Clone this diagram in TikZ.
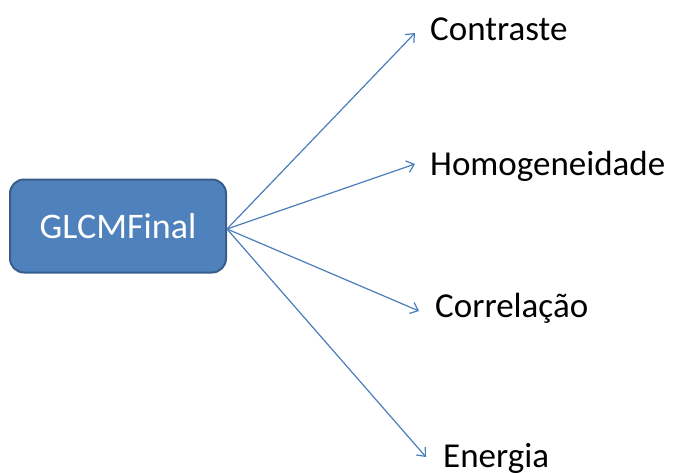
\documentclass[tikz,border=0pt]{standalone}
\usepackage{fontspec}
\setmainfont{Carlito}
\usetikzlibrary{arrows.meta}
\definecolor{boxfill}{HTML}{4F81BD}
\definecolor{boxline}{HTML}{385D8A}
\definecolor{arrowblue}{HTML}{4A7EBB}
\tikzset{
  rootbox/.style={draw=boxline, line width=2pt, fill=boxfill, rounded corners=14pt,
    text=white, font=\fontsize{36}{40}\selectfont, minimum width=216pt,
    minimum height=93pt, inner sep=0pt},
  leaf/.style={anchor=base west, inner sep=0pt, font=\fontsize{35}{40}\selectfont, text=black},
  link/.style={draw=arrowblue, line width=1.2pt, -{Straight Barb[length=7pt,width=12pt]}}
}
\begin{document}
\begin{tikzpicture}[x=1pt,y=-1pt]
  \useasboundingbox (0,0) rectangle (676,472);
  \node[rootbox] (root) at (118,226) {GLCMFinal};
  \node[leaf] (c) at (430,40) {Contraste};
  \node[leaf] (h) at (430,175) {Homogeneidade};
  \node[leaf] (r) at (435,317) {Correlação};
  \node[leaf] (e) at (443,467) {Energia};
  \coordinate (o) at (227,229);
  \coordinate (tc) at (415,33);
  \coordinate (th) at (415,164);
  \coordinate (tr) at (419,311);
  \coordinate (te) at (426,457);
  \draw[link] (o) -- (tc);
  \draw[link] (o) -- (th);
  \draw[link] (o) -- (tr);
  \draw[link] (o) -- (te);
\end{tikzpicture}
\end{document}
